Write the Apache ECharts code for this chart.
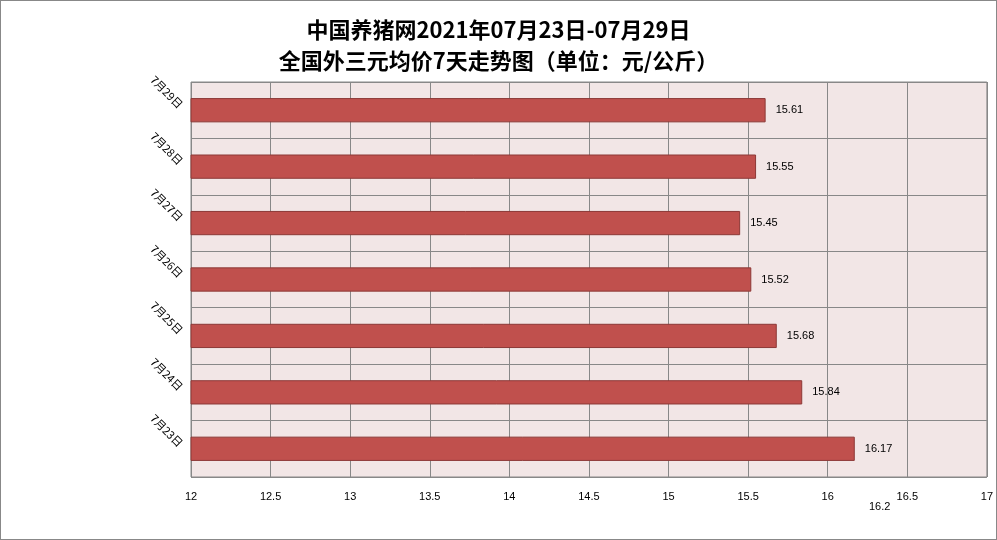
<!DOCTYPE html><html><head><meta charset="utf-8"><script src="https://cdn.jsdelivr.net/npm/echarts@6/dist/echarts.min.js"></script>
<style>html,body{margin:0;padding:0;}#c{width:995px;height:538px;border:1px solid #888;}</style></head><body><div id="c"></div><script>
const categories=['7月23日','7月24日','7月25日','7月26日','7月27日','7月28日','7月29日'];
const values=[16.17,15.84,15.68,15.52,15.45,15.55,15.61];
const titleLines=['中国养猪网2021年07月23日-07月29日','全国外三元均价7天走势图（单位：元/公斤）'];
const c=echarts.init(document.getElementById('c'));
c.setOption({
 animation:false,
 title:{text:titleLines.join('\n'),left:'center',top:8,textStyle:{fontFamily:'Noto Sans CJK SC',fontSize:22,fontWeight:'bold',color:'#000',lineHeight:31}},
 grid:{left:190,right:9,top:81,bottom:62,backgroundColor:'#f2e6e6',show:true,borderColor:'#888',borderWidth:1},
 xAxis:{type:'value',min:12,max:17,interval:0.5,axisLine:{show:false},axisTick:{show:false},
  splitLine:{lineStyle:{color:'#888'}},axisLabel:{color:'#000',fontSize:11,margin:14,fontFamily:'Liberation Sans'}},
 yAxis:{type:'category',data:categories,axisTick:{show:false},axisLine:{show:false},
  splitLine:{show:true,lineStyle:{color:'#888'}},
  axisLabel:{rotate:-45,color:'#000',fontSize:11,margin:14,fontFamily:'Noto Sans CJK SC',verticalAlign:'bottom'}},
 series:[{type:'bar',data:values,barWidth:'43%',itemStyle:{color:'#c0504d',borderColor:'#8c3836',borderWidth:1},
  label:{show:true,position:'right',color:'#000',fontSize:11,distance:10,fontFamily:'Liberation Sans'}}],
 graphic:[{type:'text',left:868,top:500,style:{text:'16.2',fontSize:11,fill:'#000',fontFamily:'Liberation Sans'}}]
});
</script></body></html>
